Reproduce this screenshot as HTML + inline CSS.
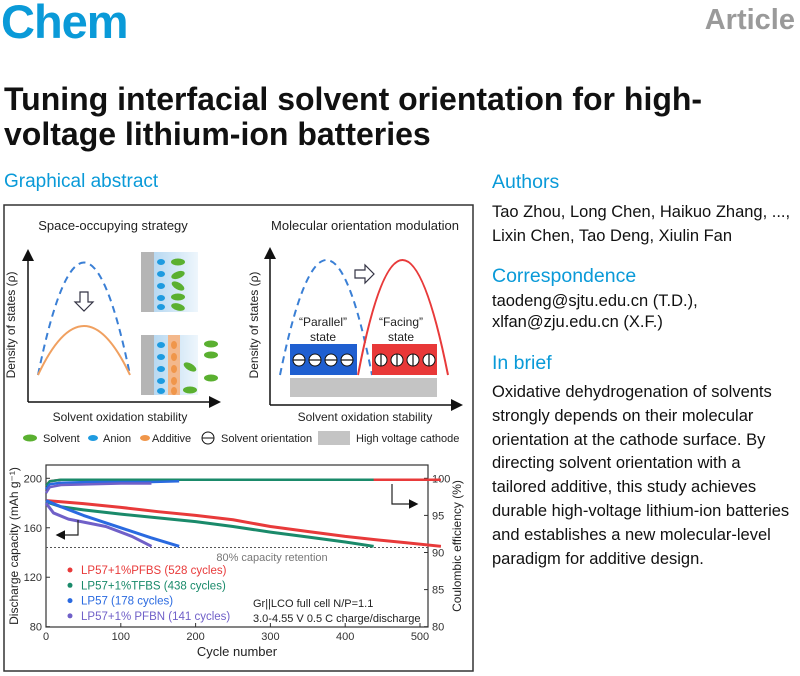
<!DOCTYPE html>
<html><head><meta charset="utf-8">
<style>
body{margin:0;width:800px;height:676px;background:#fff;font-family:"Liberation Sans",Arial,sans-serif;position:relative;overflow:hidden}
.a{position:absolute;margin:0;white-space:nowrap}
.blue{color:#0a9ad8}
.rt{font-size:16.5px;color:#111;line-height:23.8px}
.h{font-size:19.5px}
</style></head><body>
<div class="a blue" style="left:1px;top:-6px;font-size:47px;font-weight:bold;letter-spacing:-1px">Chem</div>
<div class="a" style="right:5px;top:4px;font-size:29px;font-weight:bold;color:#9a9a9a">Article</div>
<div class="a" style="left:4px;top:82px;font-size:32px;font-weight:bold;line-height:35px;color:#111">Tuning interfacial solvent orientation for high-<br>voltage lithium-ion batteries</div>
<div class="a blue" style="left:4px;top:171px;font-size:19px">Graphical abstract</div>
<div class="a blue h" style="left:492px;top:171px">Authors</div>
<div class="a rt" style="left:492px;top:201px">Tao Zhou, Long Chen, Haikuo Zhang, ...,<br>Lixin Chen, Tao Deng, Xiulin Fan</div>
<div class="a blue h" style="left:492px;top:265px">Correspondence</div>
<div class="a rt" style="left:492px;top:291px;line-height:21px">taodeng@sjtu.edu.cn (T.D.),<br>xlfan@zju.edu.cn (X.F.)</div>
<div class="a blue h" style="left:492px;top:352px">In brief</div>
<div class="a rt" style="left:492px;top:381px">Oxidative dehydrogenation of solvents<br>strongly depends on their molecular<br>orientation at the cathode surface. By<br>directing solvent orientation with a<br>tailored additive, this study achieves<br>durable high-voltage lithium-ion batteries<br>and establishes a new molecular-level<br>paradigm for additive design.</div>

<svg class="a" style="left:0;top:0" width="480" height="676" font-family="Liberation Sans, Arial, sans-serif">
<defs><marker id="ah" markerWidth="8" markerHeight="8" refX="6" refY="4" orient="auto"><path d="M0,0 L8,4 L0,8 z" fill="#111"/></marker>
<linearGradient id="gb" x1="0" x2="1"><stop offset="0" stop-color="#a8d0ee"/><stop offset="1" stop-color="#eef6fc"/></linearGradient></defs>
<rect x="4" y="205" width="469" height="466" fill="none" stroke="#333" stroke-width="1.5"/>
<text x="113" y="230" font-size="13" text-anchor="middle" fill="#222">Space-occupying strategy</text>
<line x1="28" y1="402" x2="28" y2="252" stroke="#111" stroke-width="1.5" marker-end="url(#ah)"/>
<line x1="28" y1="402" x2="218" y2="402" stroke="#111" stroke-width="1.5" marker-end="url(#ah)"/>
<text x="15" y="325" font-size="12" text-anchor="middle" transform="rotate(-90 15 325)" fill="#222">Density of states (ρ)</text>
<text x="120" y="421" font-size="12" text-anchor="middle" fill="#222">Solvent oxidation stability</text>
<path d="M38,375 Q84,150 130,375" fill="none" stroke="#3a7fd5" stroke-width="2" stroke-dasharray="7,5"/>
<path d="M38,375 Q84,277 130,375" fill="none" stroke="#f0a060" stroke-width="2"/>
<path d="M80,292 h8 v10 h5 l-9,9 l-9,-9 h5z" fill="#fff" stroke="#334" stroke-width="1.2"/>
<rect x="141" y="252" width="57" height="60" fill="url(#gb)"/><rect x="141" y="252" width="13" height="60" fill="#b5b5b5"/>
<rect x="141" y="335" width="57" height="60" fill="url(#gb)"/><rect x="141" y="335" width="13" height="60" fill="#b5b5b5"/><rect x="168" y="335" width="12" height="60" fill="#f3b88c"/>
<g fill="#1e9be0"><ellipse cx="161" cy="262" rx="4" ry="3"/><ellipse cx="161" cy="274" rx="4" ry="3"/><ellipse cx="161" cy="286" rx="4" ry="3"/><ellipse cx="161" cy="298" rx="4" ry="3"/><ellipse cx="161" cy="307" rx="4" ry="3"/>
<ellipse cx="161" cy="345" rx="4" ry="3"/><ellipse cx="161" cy="357" rx="4" ry="3"/><ellipse cx="161" cy="369" rx="4" ry="3"/><ellipse cx="161" cy="381" rx="4" ry="3"/><ellipse cx="161" cy="391" rx="4" ry="3"/></g>
<g fill="#f0964a"><ellipse cx="174" cy="345" rx="3" ry="4"/><ellipse cx="174" cy="357" rx="3" ry="4"/><ellipse cx="174" cy="369" rx="3" ry="4"/><ellipse cx="174" cy="381" rx="3" ry="4"/><ellipse cx="174" cy="391" rx="3" ry="4"/></g>
<g fill="#5ab030"><ellipse cx="178" cy="262" rx="7" ry="3.5"/><ellipse cx="178" cy="275" rx="7" ry="3.5" transform="rotate(-20 178 275)"/><ellipse cx="178" cy="286" rx="7" ry="3.5" transform="rotate(30 178 286)"/><ellipse cx="178" cy="297" rx="7" ry="3.5"/><ellipse cx="178" cy="307" rx="7" ry="3.5" transform="rotate(15 178 307)"/>
<ellipse cx="211" cy="344" rx="7" ry="3.5"/><ellipse cx="211" cy="355" rx="7" ry="3.5"/><ellipse cx="190" cy="367" rx="7" ry="3.5" transform="rotate(30 190 367)"/><ellipse cx="211" cy="378" rx="7" ry="3.5"/><ellipse cx="190" cy="390" rx="7" ry="3.5"/></g>
<text x="365" y="230" font-size="13" text-anchor="middle" fill="#222">Molecular orientation modulation</text>
<line x1="270" y1="405" x2="270" y2="250" stroke="#111" stroke-width="1.5" marker-end="url(#ah)"/>
<line x1="270" y1="405" x2="460" y2="405" stroke="#111" stroke-width="1.5" marker-end="url(#ah)"/>
<text x="258" y="325" font-size="12" text-anchor="middle" transform="rotate(-90 258 325)" fill="#222">Density of states (ρ)</text>
<text x="365" y="421" font-size="12" text-anchor="middle" fill="#222">Solvent oxidation stability</text>
<path d="M280,375 Q327,145 372,375" fill="none" stroke="#3a7fd5" stroke-width="2" stroke-dasharray="7,5"/>
<path d="M358,375 Q402,145 448,375" fill="none" stroke="#e83a3a" stroke-width="2"/>
<path d="M355,270 h10 v-5 l9,9 l-9,9 v-5 h-10z" fill="#fff" stroke="#334" stroke-width="1.2"/>
<rect x="290" y="344" width="67" height="31" fill="#1f5fd0"/><rect x="372" y="344" width="65" height="31" fill="#e83838"/>
<rect x="290" y="378" width="147" height="19" fill="#c4c4c4"/>
<text x="323" y="326" font-size="12" text-anchor="middle" fill="#222">“Parallel”</text><text x="323" y="341" font-size="12" text-anchor="middle" fill="#222">state</text>
<text x="401" y="326" font-size="12" text-anchor="middle" fill="#222">“Facing”</text><text x="401" y="341" font-size="12" text-anchor="middle" fill="#222">state</text>
<g fill="#fff" stroke="#111" stroke-width="1"><circle cx="299" cy="360" r="6"/><circle cx="315" cy="360" r="6"/><circle cx="331" cy="360" r="6"/><circle cx="347" cy="360" r="6"/>
<circle cx="381" cy="360" r="6"/><circle cx="397" cy="360" r="6"/><circle cx="413" cy="360" r="6"/><circle cx="429" cy="360" r="6"/></g>
<g stroke="#111" stroke-width="1.2"><line x1="293" y1="360" x2="305" y2="360"/><line x1="309" y1="360" x2="321" y2="360"/><line x1="325" y1="360" x2="337" y2="360"/><line x1="341" y1="360" x2="353" y2="360"/>
<line x1="381" y1="354" x2="381" y2="366"/><line x1="397" y1="354" x2="397" y2="366"/><line x1="413" y1="354" x2="413" y2="366"/><line x1="429" y1="354" x2="429" y2="366"/></g>
<g font-size="11" fill="#222">
<ellipse cx="30" cy="438" rx="7" ry="3.5" fill="#5ab030"/><text x="43" y="442">Solvent</text>
<ellipse cx="93" cy="438" rx="5" ry="3" fill="#1e9be0"/><text x="103" y="442">Anion</text>
<ellipse cx="145" cy="438" rx="5" ry="3" fill="#f0964a"/><text x="152" y="442">Additive</text>
<circle cx="208" cy="438" r="6" fill="#fff" stroke="#111"/><line x1="202" y1="438" x2="214" y2="438" stroke="#111"/><text x="221" y="442">Solvent orientation</text>
<rect x="318" y="431" width="32" height="14" fill="#c4c4c4"/><text x="356" y="442">High voltage cathode</text></g>
<g id="chart"></g>
</svg>
<script>
const cycles=[0,20,50,100,150,200,250,300,350,400,438,480,528];
const capPFBS=[182,181,179.5,176.5,173,170,166.5,161,157,153,150.5,148,145];
const capTFBS=[181,177,174.5,171,168,165,161,156.5,152.5,148.5,145];
const capLP57=[182,177,170,160,152,145];
const cycLP57=[0,20,50,100,140,178];
const capPFBN=[180,172,167,161,153,145];
const cycPFBN=[0,10,30,80,115,141];
const ceCyc=[0,5,20,60,100,141,178,300,438,528];
const cePFBS=[99,99.6,99.8,99.8,99.8,99.8,99.8,99.8,99.8,99.8];
const ceTFBS=[99,99.6,99.8,99.8,99.8,99.8,99.8,99.8,99.8];
const ceLP57=[98.5,99.2,99.4,99.5,99.5,99.5,99.6];
const cePFBN=[98,98.8,99.1,99.2,99.3,99.3];
const xTicks=[0,100,200,300,400,500];
const yTicksL=[80,120,160,200];
const yTicksR=[80,85,90,95,100];
const ns="http://www.w3.org/2000/svg",g=document.getElementById('chart');
const X=c=>46+c*0.748, YL=v=>626.7-(v-80)*148.4/120, YR=v=>626.7-(v-80)*148.4/20;
function el(t,a,txt){const e=document.createElementNS(ns,t);for(const k in a)e.setAttribute(k,a[k]);if(txt!=null)e.textContent=txt;g.appendChild(e);return e;}
let e=el('rect',{x:46,y:465,width:382,height:162,fill:'none',stroke:'#333','stroke-width':1.2});


xTicks.forEach(t=>{el('line',{x1:X(t),x2:X(t),y1:627,y2:623,stroke:'#333'});e=el('text',{x:X(t),y:640,'font-size':11,'text-anchor':'middle',fill:'#333'},t);

});
yTicksL.forEach(t=>{el('line',{x1:46,x2:50,y1:YL(t),y2:YL(t),stroke:'#333'});e=el('text',{x:42,y:YL(t)+4,'font-size':11,'text-anchor':'end',fill:'#333'},t);

});
yTicksR.forEach(t=>{el('line',{x1:428,x2:424,y1:YR(t),y2:YR(t),stroke:'#333'});e=el('text',{x:432,y:YR(t)+4,'font-size':11,fill:'#333'},t);

});
e=el('text',{x:237,y:656,'font-size':13,'text-anchor':'middle',fill:'#222'},'Cycle number');


e=el('text',{x:18,y:546,'font-size':12,'text-anchor':'middle',fill:'#222',transform:'rotate(-90 18 546)'},'Discharge capacity (mAh g⁻¹)');


e=el('text',{x:461,y:546,'font-size':12,'text-anchor':'middle',fill:'#222',transform:'rotate(-90 461 546)'},'Coulombic efficiency (%)');


e=el('line',{x1:46,x2:428,y1:YL(144),y2:YL(144),stroke:'#555','stroke-dasharray':'2,2'});


el('text',{x:272,y:561,'font-size':11,'text-anchor':'middle',fill:'#777'},'80% capacity retention');
function line(xs,ys,Y,col,name,w){const pts=ys.map((v,i)=>X(xs[i])+','+Y(v)).join(' ');const p=el('polyline',{points:pts,fill:'none',stroke:col,'stroke-width':w,'stroke-linejoin':'round'});

}
line(ceCyc,cePFBS,YR,'#e83a3a','ce-pfbs',2.5);line(ceCyc,ceTFBS,YR,'#1a8a6a','ce-tfbs',2.5);
line(ceCyc,ceLP57,YR,'#2a6ae0','ce-lp57',2.5);line(ceCyc,cePFBN,YR,'#7060c8','ce-pfbn',2.5);
line(cycles,capPFBS,YL,'#e83a3a','capacity-pfbs',3);line(cycles,capTFBS,YL,'#1a8a6a','capacity-tfbs',3);
line(cycLP57,capLP57,YL,'#2a6ae0','capacity-lp57',3);line(cycPFBN,capPFBN,YL,'#7060c8','capacity-pfbn',3);
el('path',{d:'M78,520 V535 H58',fill:'none',stroke:'#222','stroke-width':1.2,'marker-end':'url(#ah)'});
el('path',{d:'M392,484 V504 H416',fill:'none',stroke:'#222','stroke-width':1.2,'marker-end':'url(#ah)'});
const legNames=['LP57+1%PFBS (528 cycles)','LP57+1%TFBS (438 cycles)','LP57 (178 cycles)','LP57+1% PFBN (141 cycles)'];
const legCols=['#e83a3a','#1a8a6a','#2a6ae0','#7060c8'];
legNames.forEach((n,i)=>{const y=570+i*15.3;el('circle',{cx:70,cy:y,r:2.5,fill:legCols[i]});e=el('text',{x:81,y:y+4,'font-size':11.5,fill:legCols[i]},n);

});
el('text',{x:253,y:607,'font-size':11,fill:'#222'},'Gr||LCO full cell  N/P=1.1');
el('text',{x:253,y:622,'font-size':11,fill:'#222'},'3.0-4.55 V   0.5 C charge/discharge');
</script>
</body></html>
